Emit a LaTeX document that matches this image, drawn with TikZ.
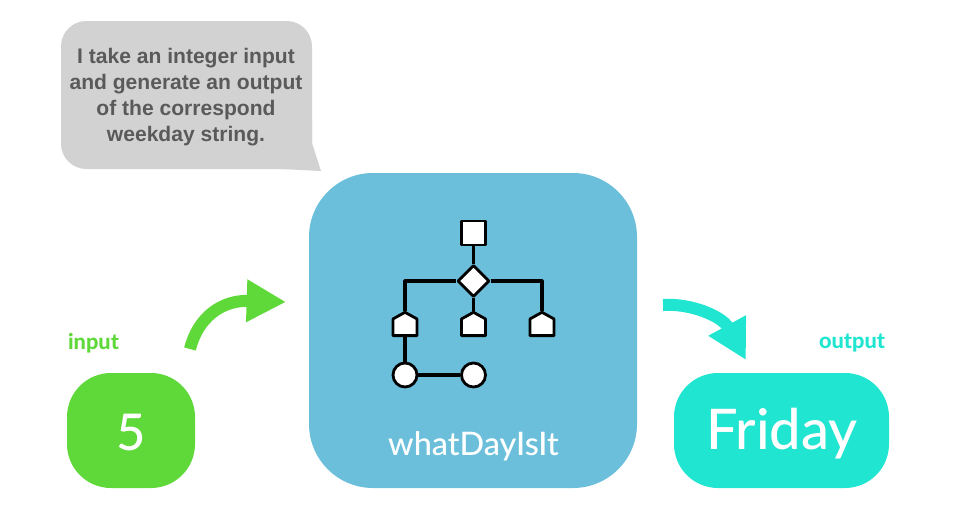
\documentclass[tikz,border=0pt]{standalone}
\usepackage{fontspec}
\setmainfont{Lato Medium}
\newfontfamily\bubblefont{Liberation Sans}
\newfontfamily\labelfont{Lato Heavy}
\usetikzlibrary{arrows.meta,shapes.geometric,shapes.symbols}
\definecolor{boxblue}{HTML}{6BBFDB}
\definecolor{inputgreen}{HTML}{5FD93A}
\definecolor{outputcyan}{HTML}{20E5D0}
\definecolor{bubblegray}{HTML}{D2D2D2}
\definecolor{bubbletext}{HTML}{5A5A5A}
\tikzset{
	flowpart/.style={draw=black,fill=white,line width=2.1pt,inner sep=0pt},
	flowline/.style={draw=black,line width=2.3pt},
	housepart/.style={flowpart,signal,signal to=north,signal from=nowhere,signal pointer angle=122,minimum width=18pt,minimum height=12.5pt,anchor=south},
	bigbox/.style={text=white,inner sep=0pt},
	curvearrow/.style={line width=9pt,-{Triangle[length=29.5pt,width=30pt]}},
}
\begin{document}
\begin{tikzpicture}[x=.75pt,y=-.75pt,line join=round]
	\useasboundingbox (0,0) rectangle (958,518);
	% bubble
	\fill[bubblegray,rounded corners=19pt] (61,21) rectangle (312,169);
	\fill[bubblegray] (312,143)--(321,171)--(280,169)--(312,120)--cycle;
	\node[align=center,text=bubbletext,inner sep=0pt,font=\bubblefont\bfseries\fontsize{15.8pt}{19.6pt}\selectfont] (bubble) at (186,97)
		{I take an integer input\\and generate an output\\of the correspond\\weekday string.};
	% boxes
	\fill[boxblue,rounded corners=48pt] (309,173) rectangle (637,488);
	\fill[inputgreen,rounded corners=33pt] (67,373) rectangle (195,488);
	\fill[outputcyan,rounded corners=33pt] (674,373) rectangle (889,488);
	\node[bigbox,font=\fontsize{38pt}{38pt}\selectfont] (five) at (131,433) {5};
	\node[bigbox,font=\fontsize{42pt}{42pt}\selectfont] (friday) at (782,434) {Friday};
	\node[bigbox,font=\fontsize{24.3pt}{24pt}\selectfont] (func) at (473.5,446) {whatDayIsIt};
	\node[text=inputgreen,font=\labelfont\fontsize{16.3pt}{16pt}\selectfont] (input) at (93.5,343) {input};
	\node[text=outputcyan,font=\labelfont\fontsize{16.3pt}{16pt}\selectfont] (output) at (852,343) {output};
	% flow chart inside the box
	\node[flowpart,minimum size=18pt] (start) at (473.5,233) {};
	\node[flowpart,diamond,minimum size=24pt] (test) at (473.5,281) {};
	\node[housepart] (left) at (405,337) {};
	\node[housepart] (mid) at (473.5,337) {};
	\node[housepart] (right) at (542,337) {};
	\node[flowpart,circle,minimum size=18pt] (one) at (405,375) {};
	\node[flowpart,circle,minimum size=18pt] (two) at (473.5,375) {};
	\draw[flowline] (start)--(test);
	\draw[flowline] (test)-|(left);
	\draw[flowline] (test)--(mid);
	\draw[flowline] (test)-|(right);
	\draw[flowline] (left)--(one);
	\draw[flowline] (one)--(two);
	% arrows
	\coordinate (inA) at (190,349);
	\coordinate (inB) at (286,302);
	\coordinate (outA) at (663,305);
	\coordinate (outB) at (746,360);
	\draw[curvearrow,inputgreen] (inA) .. controls (198,317) and (222,300) .. (inB);
	\draw[curvearrow,outputcyan] (outA) .. controls (690,303) and (722,316) .. (outB);
\end{tikzpicture}
\end{document}
